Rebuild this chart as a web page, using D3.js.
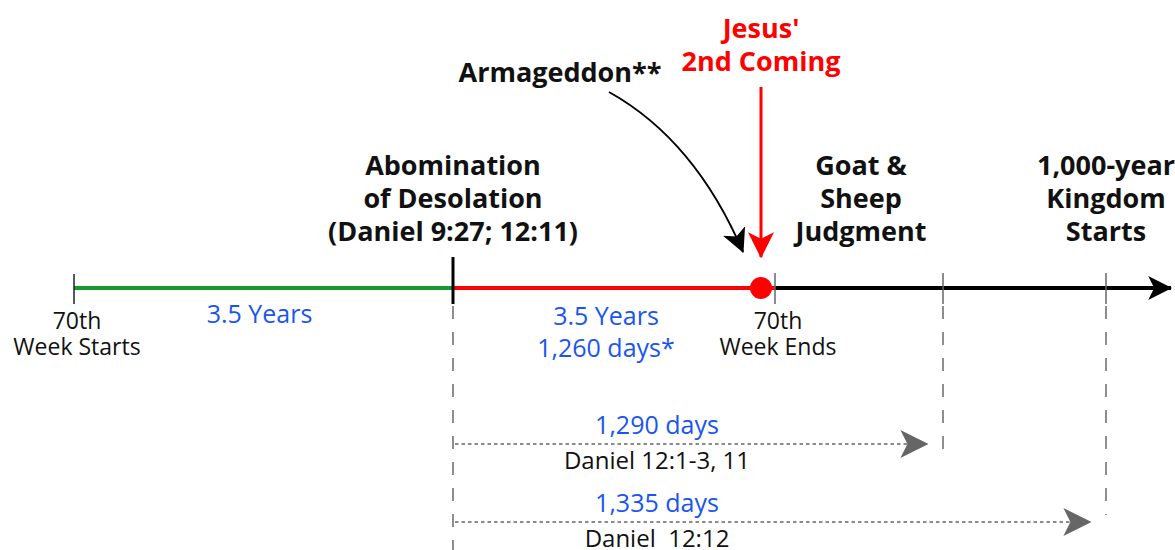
<!DOCTYPE html>
<html>
<head>
<meta charset="utf-8">
<script src="https://cdn.jsdelivr.net/npm/d3@7"></script>
<style>
  body { margin: 0; background: #fff; }
  svg { display: block; font-family: "Open Sans", sans-serif; }
</style>
</head>
<body>
<script>
// timeline positions, in days from start of the 70th week
var dayStops   = [0, 1260, 2520, 2550, 2595, 2640];
var pixelStops = [74, 453, 775, 943, 1106, 1175];

var tickDays   = [0, 2520, 2550, 2595];
var segDays    = [[0, 1260], [1260, 2520], [2520, 2640]];
var segColors  = ["#17982b", "#ff0000", "#000000"];

var upperLabels = [
  { day: 1260, lines: ["Abomination", "of Desolation", "(Daniel 9:27; 12:11)"] },
  { day: 2550, lines: ["Goat &", "Sheep", "Judgment"], dx: -82 },
  { day: 2595, lines: ["1,000-year", "Kingdom", "Starts"] }
];
var lowerLabels = [
  { day: 0, lines: ["70th", "Week Starts"] },
  { day: 2520, lines: ["70th", "Week Ends"] }
];
var spanLabels = [
  { from: 0, to: 1260, lines: ["3.5 Years"], dx: -4 },
  { from: 1260, to: 2520, lines: ["3.5 Years", "1,260 days*"], dx: -8 }
];
var dayArrows = [
  { from: 1260, to: 2550, days: "1,290 days", ref: "Daniel 12:1-3, 11" },
  { from: 1260, to: 2595, days: "1,335 days", ref: "Daniel  12:12" }
];

var W = 1175, H = 550, axisY = 288;

var x = d3.scaleLinear().domain(dayStops).range(pixelStops);

var svg = d3.select("body").append("svg")
    .attr("width", W)
    .attr("height", H);

var defs = svg.append("defs");
function marker(id, color, size) {
  defs.append("marker")
      .attr("id", id)
      .attr("viewBox", "0 -10 20 20")
      .attr("refX", 19)
      .attr("refY", 0)
      .attr("markerUnits", "userSpaceOnUse")
      .attr("markerWidth", size)
      .attr("markerHeight", size)
      .attr("orient", "auto")
      .append("path")
      .attr("d", "M0,-10L20,0L0,10L5,0Z")
      .attr("fill", color);
}
marker("arrBlack", "#000", 24);
marker("arrGray", "#666", 28);
marker("arrRed", "#ff0000", 26);

// dashed guides down from the axis
svg.append("line")
    .attr("x1", x(1260)).attr("x2", x(1260))
    .attr("y1", 306).attr("y2", H)
    .attr("stroke", "#444").attr("stroke-width", 1.2)
    .attr("stroke-dasharray", "13,13");
svg.selectAll(".guide")
  .data(dayArrows)
  .enter().append("line")
    .attr("x1", function(d) { return x(d.to); })
    .attr("x2", function(d) { return x(d.to); })
    .attr("y1", 306)
    .attr("y2", function(d, i) { return i == 0 ? 458 : 515; })
    .attr("stroke", "#444").attr("stroke-width", 1.2)
    .attr("stroke-dasharray", "13,13");

// axis segments
svg.selectAll(".seg")
  .data(segDays)
  .enter().append("line")
    .attr("x1", function(d) { return x(d[0]); })
    .attr("x2", function(d, i) { return i == 2 ? x(d[1]) - 4 : x(d[1]); })
    .attr("y1", axisY).attr("y2", axisY)
    .attr("stroke", function(d, i) { return segColors[i]; })
    .attr("stroke-width", 4)
    .attr("marker-end", function(d, i) { return i == 2 ? "url(#arrBlack)" : null; });

// ticks
svg.selectAll(".tick")
  .data(tickDays)
  .enter().append("line")
    .attr("x1", function(d) { return x(d); })
    .attr("x2", function(d) { return x(d); })
    .attr("y1", function(d) { return d == 0 ? 274 : 273; })
    .attr("y2", 304)
    .attr("stroke", function(d) { return d == 0 ? "#222" : "#666"; })
    .attr("stroke-width", 1.5);

svg.append("line")
    .attr("x1", x(1260)).attr("x2", x(1260))
    .attr("y1", 257).attr("y2", 304)
    .attr("stroke", "#000").attr("stroke-width", 3);

// 2nd coming dot
var comingX = x(2520) - 14;
svg.append("circle")
    .attr("cx", comingX).attr("cy", axisY).attr("r", 11)
    .attr("fill", "#ff0000");

// labels above axis
upperLabels.forEach(function(d) {
  var t = svg.append("text")
      .attr("text-anchor", "middle")
      .attr("font-size", 27)
      .attr("font-weight", "bold")
      .attr("fill", "#111");
  t.selectAll("tspan").data(d.lines).enter().append("tspan")
      .attr("x", x(d.day) + (d.dx || 0))
      .attr("y", function(l, i) { return 175 + i * 33; })
      .text(function(l) { return l; });
});

// labels below axis
lowerLabels.forEach(function(d) {
  var t = svg.append("text")
      .attr("text-anchor", "middle")
      .attr("font-size", 23)
      .attr("fill", "#111");
  t.selectAll("tspan").data(d.lines).enter().append("tspan")
      .attr("x", x(d.day) + 3)
      .attr("y", function(l, i) { return 329 + i * 26; })
      .text(function(l) { return l; });
});

spanLabels.forEach(function(d) {
  var t = svg.append("text")
      .attr("text-anchor", "middle")
      .attr("font-size", 25)
      .attr("fill", "#1a55f0");
  t.selectAll("tspan").data(d.lines).enter().append("tspan")
      .attr("x", (x(d.from) + x(d.to)) / 2 + (d.dx || 0))
      .attr("y", function(l, i) { return (d.lines.length > 1 ? 325 : 323) + i * 32; })
      .text(function(l) { return l; });
});

// day-count arrows
dayArrows.forEach(function(d, i) {
  var y = i == 0 ? 444 : 522;
  var cx = 657;
  svg.append("line")
      .attr("x1", x(d.from) + 2).attr("x2", x(d.to) - 16)
      .attr("y1", y).attr("y2", y)
      .attr("stroke", "#666").attr("stroke-width", 1.6)
      .attr("stroke-dasharray", "3.5,3")
      .attr("marker-end", "url(#arrGray)");
  svg.append("text")
      .attr("x", cx).attr("y", y - 10)
      .attr("text-anchor", "middle")
      .attr("font-size", 25)
      .attr("fill", "#1a55f0")
      .text(d.days);
  svg.append("text")
      .attr("x", cx).attr("y", y + 25)
      .attr("text-anchor", "middle")
      .attr("font-size", 24)
      .attr("fill", "#111")
      .style("white-space", "pre")
      .text(d.ref);
});

// Jesus' 2nd Coming
svg.append("text")
    .attr("text-anchor", "middle")
    .attr("font-size", 27)
    .attr("font-weight", "bold")
    .attr("fill", "#ff0000")
  .selectAll("tspan").data(["Jesus'", "2nd Coming"]).enter().append("tspan")
    .attr("x", comingX)
    .attr("y", function(l, i) { return 38 + i * 33; })
    .text(function(l) { return l; });
svg.append("line")
    .attr("x1", comingX).attr("x2", comingX)
    .attr("y1", 87).attr("y2", 257)
    .attr("stroke", "#ff0000").attr("stroke-width", 3)
    .attr("marker-end", "url(#arrRed)");

// Armageddon
svg.append("text")
    .attr("x", 560).attr("y", 82)
    .attr("text-anchor", "middle")
    .attr("font-size", 27)
    .attr("font-weight", "bold")
    .attr("fill", "#111")
    .text("Armageddon**");
svg.append("path")
    .attr("d", "M609,92Q695,140 743,252")
    .attr("fill", "none")
    .attr("stroke", "#000").attr("stroke-width", 2)
    .attr("marker-end", "url(#arrBlack)");
</script>
</body>
</html>
